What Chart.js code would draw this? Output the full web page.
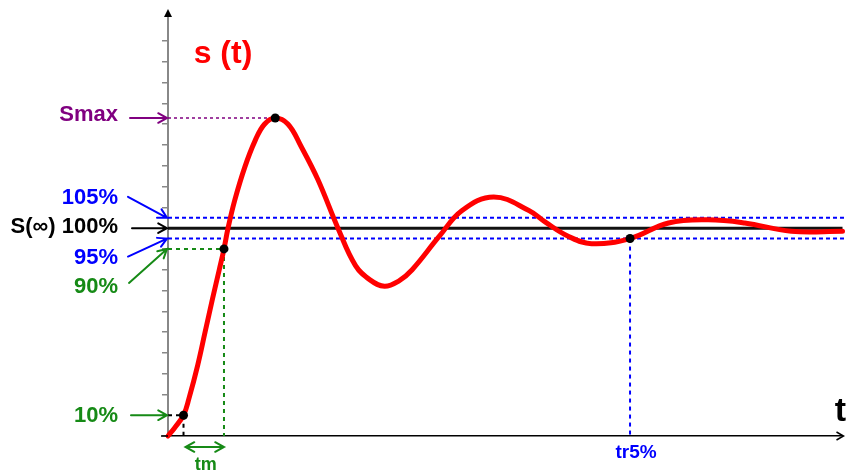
<!DOCTYPE html>
<html>
<head>
<meta charset="utf-8">
<script src="https://cdn.jsdelivr.net/npm/chart.js@4"></script>
<style>
  html, body { margin: 0; padding: 0; background: #fff; }
  #wrap { width: 847px; height: 475px; }
</style>
</head>
<body>
<div id="wrap"><canvas id="stepChart"></canvas></div>
<script>
// step response s(t), values in % of final value, time in arbitrary units
const timeValues = [0, 0.10, 0.23, 0.31, 0.44, 0.55, 0.66, 0.76, 0.83, 0.89, 0.99, 1.14, 1.29, 1.43, 1.59,
  1.78, 1.97, 2.22, 2.52, 2.78, 3.00, 3.21, 3.42, 3.62, 4.02, 4.36, 4.83, 5.35, 5.59, 5.94, 6.28, 6.85,
  7.42, 8.01, 8.55, 9.24, 10];
const responseValues = [0, 4, 10, 18, 34, 50, 66, 80, 90, 100, 113.5, 129.5, 142, 150, 153,
  150, 139.5, 123.5, 100, 82, 75, 72, 74.5, 80, 96, 108.5, 115, 108.5, 103, 96, 92.5, 95,
  102.5, 104, 102.5, 98.5, 98.5];

// characteristic points: 10%, 90%, Smax, entry in the 5% band
const markerTimes = [0.23, 0.83, 1.59, 6.85];
const markerValues = [10, 90, 153, 95];

const levelNames = ['Smax', '105%', 'S(\u221E) 100%', '95%', '90%', '10%'];
const levelValues = [153, 105, 100, 95, 90, 10];
const timeNames = ['tm', 'tr5%'];

const T_MAX = 10;
const S_TOP = 204;

const RED = '#ff0000';
const BLUE = '#0000ff';
const GREEN = '#168a16';
const PURPLE = '#800080';
const FONT = "'Liberation Sans', Arial, sans-serif";

function guide(points, color, width, dash, order) {
  return {
    data: points,
    borderColor: color,
    borderWidth: width,
    borderDash: dash,
    tension: 0,
    pointRadius: 0,
    fill: false,
    clip: false,
    order: order
  };
}

const curve = timeValues.map((t, i) => ({ x: t, y: responseValues[i] }));
const markers = markerTimes.map((t, i) => ({ x: t, y: markerValues[i] }));

const datasets = [
  {
    data: markers,
    showLine: false,
    pointRadius: 4.5,
    pointBackgroundColor: '#000',
    pointBorderWidth: 0,
    clip: false,
    order: 0
  },
  {
    data: curve,
    borderColor: RED,
    borderWidth: 5,
    borderCapStyle: 'round',
    borderJoinStyle: 'round',
    tension: 0.4,
    pointRadius: 0,
    fill: false,
    clip: false,
    order: 1
  },
  guide([{ x: 0, y: levelValues[2] }, { x: T_MAX, y: levelValues[2] }], '#111', 3, [], 2),
  guide([{ x: 0, y: levelValues[1] }, { x: T_MAX + 0.03, y: levelValues[1] }], BLUE, 2, [4, 3], 3),
  guide([{ x: 0, y: levelValues[3] }, { x: T_MAX + 0.03, y: levelValues[3] }], BLUE, 2, [4, 3], 3),
  guide([{ x: 0, y: markerValues[2] }, { x: markerTimes[2], y: markerValues[2] }], PURPLE, 1.5, [3, 3], 3),
  guide([{ x: 0, y: markerValues[1] }, { x: markerTimes[1], y: markerValues[1] }, { x: markerTimes[1], y: 0 }], GREEN, 2, [4, 4], 3),
  guide([{ x: 0, y: markerValues[0] }, { x: markerTimes[0], y: markerValues[0] }, { x: markerTimes[0], y: 0 }], '#000', 2, [4, 4], 3),
  guide([{ x: markerTimes[3], y: markerValues[3] }, { x: markerTimes[3], y: 0 }], BLUE, 2, [4, 4], 3)
];

function arrow(ctx, x1, y1, x2, y2, color, width) {
  const a = Math.atan2(y2 - y1, x2 - x1);
  const h = 10, s = 0.5;
  ctx.save();
  ctx.strokeStyle = color;
  ctx.lineWidth = width;
  ctx.lineCap = 'round';
  ctx.beginPath();
  ctx.moveTo(x1, y1);
  ctx.lineTo(x2, y2);
  ctx.moveTo(x2 - h * Math.cos(a - s), y2 - h * Math.sin(a - s));
  ctx.lineTo(x2, y2);
  ctx.lineTo(x2 - h * Math.cos(a + s), y2 - h * Math.sin(a + s));
  ctx.stroke();
  ctx.restore();
}

function text(ctx, str, x, y, color, size, align) {
  ctx.save();
  ctx.fillStyle = color;
  ctx.font = 'bold ' + size + 'px ' + FONT;
  ctx.textAlign = align;
  ctx.textBaseline = 'middle';
  ctx.fillText(str, x, y);
  ctx.restore();
}

const annotations = {
  id: 'annotations',
  afterDraw(chart) {
    const { ctx, chartArea } = chart;
    const xs = chart.scales.x, ys = chart.scales.y;
    const left = chartArea.left, bottom = chartArea.bottom;

    // axis ends
    ctx.save();
    ctx.strokeStyle = '#000';
    ctx.lineWidth = 1.5;
    ctx.beginPath();
    ctx.moveTo(left - 7, bottom);
    ctx.lineTo(left, bottom);
    ctx.moveTo(chartArea.right - 6, bottom - 4);
    ctx.lineTo(chartArea.right + 1, bottom);
    ctx.lineTo(chartArea.right - 6, bottom + 4);
    ctx.stroke();
    ctx.fillStyle = '#000';
    ctx.beginPath();
    ctx.moveTo(left, chartArea.top - 3);
    ctx.lineTo(left - 4, chartArea.top + 5);
    ctx.lineTo(left + 4, chartArea.top + 5);
    ctx.closePath();
    ctx.fill();
    ctx.restore();

    // level labels with arrows to the axis
    const colors = [PURPLE, BLUE, '#000', BLUE, GREEN, GREEN];
    const labelDy = [-3, -20, -1, 19, 38, 1];
    const startDy = [0, -21, 0, 18, 34, 0];
    const startX = [130, 128, 132, 128, 129, 131];
    levelValues.forEach((v, i) => {
      const y = ys.getPixelForValue(v);
      text(ctx, levelNames[i], 118, y + labelDy[i], colors[i], 22, 'right');
      arrow(ctx, startX[i], y + startDy[i], left - 1, y, colors[i], 2);
    });

    // title and axis name
    text(ctx, 's (t)', 223, 54, RED, 32, 'center');
    text(ctx, 't', 846, 412, '#000', 34, 'right');

    // time labels
    const x10 = xs.getPixelForValue(markerTimes[0]);
    const x90 = xs.getPixelForValue(markerTimes[1]);
    const yArr = bottom + 11;
    arrow(ctx, (x10 + x90) / 2, yArr, x10 + 2, yArr, GREEN, 2);
    arrow(ctx, (x10 + x90) / 2, yArr, x90, yArr, GREEN, 2);
    text(ctx, timeNames[0], (x10 + x90) / 2 + 2, bottom + 29, GREEN, 18, 'center');
    text(ctx, timeNames[1], xs.getPixelForValue(markerTimes[3]) + 6, bottom + 17, BLUE, 19, 'center');
  }
};

new Chart(document.getElementById('stepChart'), {
  type: 'line',
  data: { datasets },
  options: {
    responsive: true,
    maintainAspectRatio: false,
    animation: false,
    layout: { padding: { left: 0, right: 2, top: 12, bottom: 0 } },
    plugins: {
      legend: { display: false },
      tooltip: { enabled: false }
    },
    scales: {
      x: {
        type: 'linear',
        min: 0,
        max: T_MAX,
        afterFit: (scale) => { scale.height = 39; },
        ticks: { display: false },
        grid: { drawOnChartArea: false, drawTicks: false },
        border: { color: '#000', width: 1.5 }
      },
      y: {
        min: 0,
        max: S_TOP,
        afterFit: (scale) => { scale.width = 168; },
        afterBuildTicks: (scale) => { scale.ticks = scale.ticks.filter(t => t.value % 10 === 0); },
        ticks: { display: false, stepSize: 10 },
        grid: { drawOnChartArea: false, drawTicks: true, tickLength: 6, color: '#888', lineWidth: 1.5 },
        border: { color: '#888', width: 2 }
      }
    }
  },
  plugins: [annotations]
});
</script>
</body>
</html>
